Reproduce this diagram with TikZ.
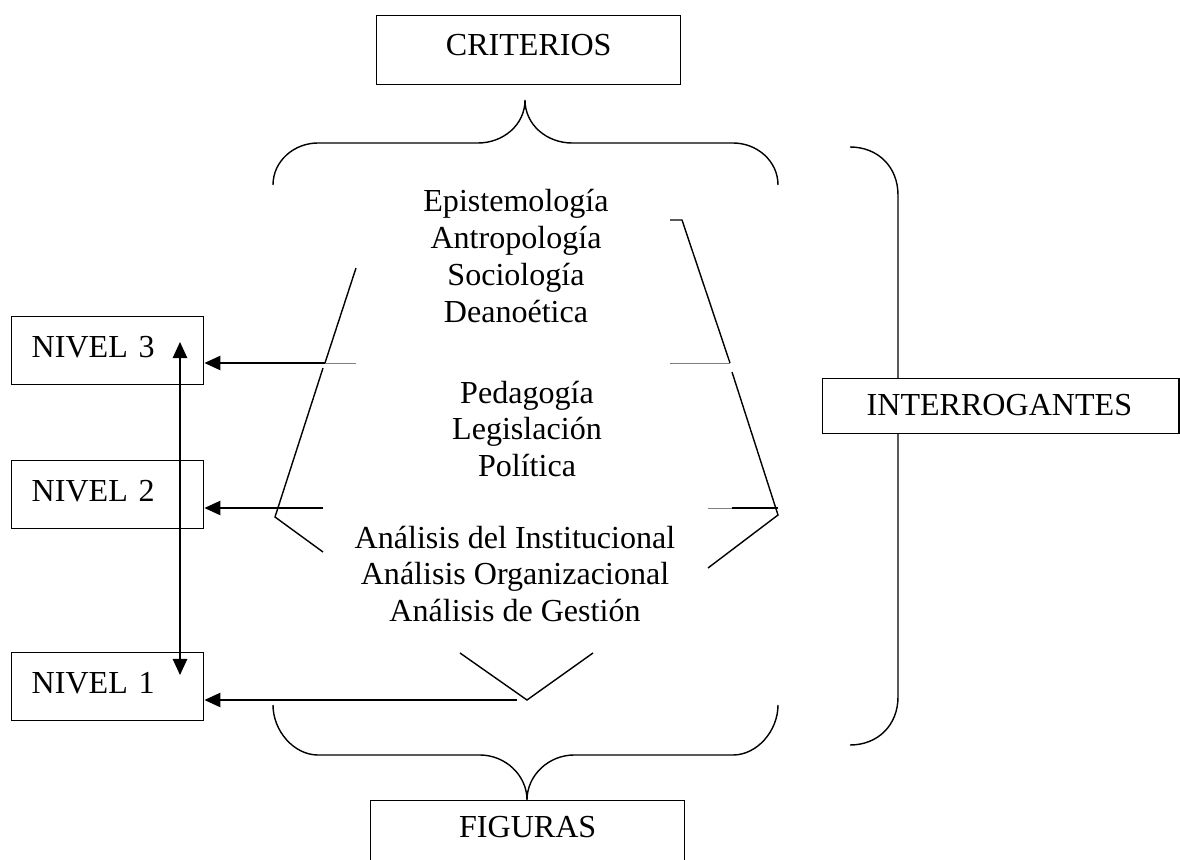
\documentclass[tikz,border=0pt]{standalone}
\usepackage{fontspec}
\setmainfont{Liberation Serif}
\usetikzlibrary{arrows.meta}

\begin{document}
\begin{tikzpicture}
		    [%%%%%%%%%%%%%%%%%%%%%%%%%%%%%%
		        x=0.025cm, y=-0.025cm,
		        font=\fontsize{22.8}{26.2}\selectfont,
		        box/.style={rectangle,draw=black,line width=1pt,fill=white,anchor=north west,inner ysep=0pt},
		        levelbox/.style={box,text width=3.8cm,inner xsep=0.5cm,align=left,text height=1.025cm,text depth=0.675cm},
		        titlebox/.style={box,minimum width=#1,align=center,text height=1cm,text depth=0.725cm},
		        txt/.style={align=center,inner sep=0pt},
		        ln/.style={line width=1pt},
		        thin/.style={line width=0.5pt,color=gray},
		        arr/.style={ln,-{Triangle[length=0.4cm,width=0.36cm]}},
		        dblarr/.style={ln,{Triangle[length=0.4cm,width=0.36cm]}-{Triangle[length=0.4cm,width=0.36cm]}},
		    ]%%%%%%%%%%%%%%%%%%%%%%%%%%%%%%
		\useasboundingbox (0,0) rectangle (1180,860);

		% braces
		\draw[ln] (273,185) .. controls (273,161) and (294,143) .. (318,143) -- (478,143)
		    .. controls (503,143) and (525,125) .. (525,100)
		    .. controls (525,125) and (547,143) .. (572,143) -- (733,143)
		    .. controls (757,143) and (778,161) .. (778,185);
		\draw[ln] (273,705) .. controls (273,731) and (294,755) .. (318,755) -- (480,755)
		    .. controls (505,755) and (527,775) .. (527,800)
		    .. controls (527,775) and (549,755) .. (574,755) -- (733,755)
		    .. controls (757,755) and (778,731) .. (778,705);
		\draw[ln] (850,147) .. controls (878,147) and (898,167) .. (898,195) -- (898,697)
		    .. controls (898,725) and (878,745) .. (850,745);

		\node[titlebox=7.6cm] (criterios) at (376,15) {CRITERIOS};
		\node[titlebox=7.85cm,text depth=1cm,text height=0.925cm] (figuras) at (370,800) {FIGURAS};
		\node[box,text width=6.7cm,inner xsep=1.1cm,align=left,text height=0.925cm,text depth=0.45cm] (interrogantes) at (822,378) {INTERROGANTES};

		\node[levelbox] (nivel3) at (11,316) {NIVEL 3};
		\node[levelbox] (nivel2) at (11,460) {NIVEL 2};
		\node[levelbox] (nivel1) at (11,652) {NIVEL 1};

		\node[txt] (fund) at (516,256) {Epistemología\\Antropología\\Sociología\\Deanoética};
		\node[txt] (norm) at (527,429) {Pedagogía\\Legislación\\Política};
		\node[txt] (inst) at (515,574) {Análisis del Institucional\\Análisis Organizacional\\Análisis de Gestión};

		% trapezoid pieces
		\draw[ln] (670,220) -- (682,220) -- (730,363);
		\draw[ln] (356,268) -- (325,363);
		\draw[thin] (670,363) -- (730,363);
		\draw[thin] (325,363) -- (356,363);
		\draw[ln] (323,368) -- (275,517) -- (323,552);
		\draw[ln] (732,372) -- (778,515) -- (708,568);
		\draw[thin] (708,508) -- (732,508);
		\draw[ln] (732,508) -- (778,508);
		\draw[ln] (460,653) -- (527,700) -- (593,653);

		% arrows to levels
		\coordinate (a3) at (325,363);
		\coordinate (a2) at (323,508);
		\coordinate (a1) at (517,700);
		\draw[arr] (a3) -- (a3 -| nivel3.east);
		\draw[arr] (a2) -- (a2 -| nivel2.east);
		\draw[arr] (a1) -- (a1 -| nivel1.east);

		\coordinate (top) at (180,342);
		\coordinate (bot) at (180,675);
		\draw[dblarr] (top) -- (bot);

		\end{tikzpicture}
\end{document}
